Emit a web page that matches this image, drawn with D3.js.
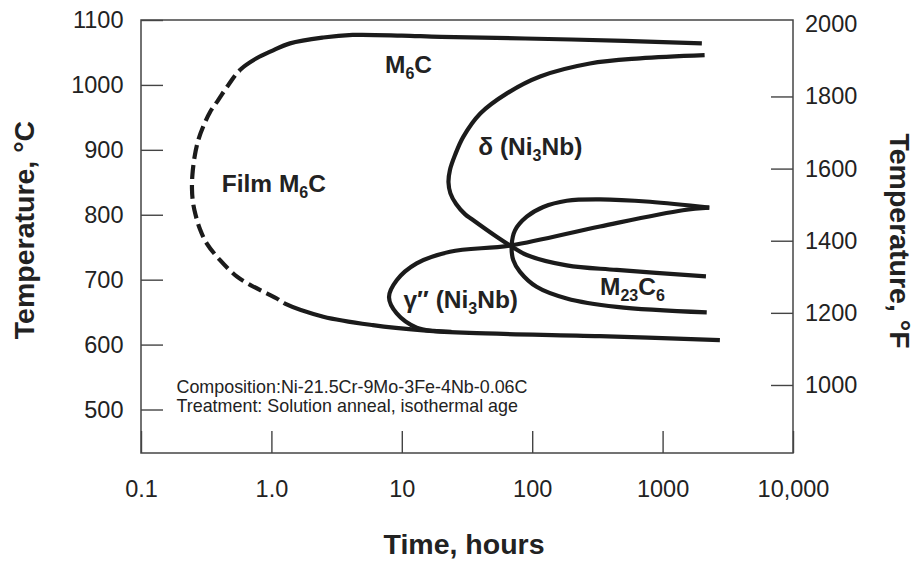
<!DOCTYPE html>
<html>
<head>
<meta charset="utf-8">
<script src="https://cdn.jsdelivr.net/npm/d3@7"></script>
<style>
  html, body { margin: 0; padding: 0; background: #ffffff; }
  svg { display: block; font-family: "Liberation Sans", Arial, Helvetica, sans-serif; }
</style>
</head>
<body>
<svg id="chart" width="916" height="561"></svg>
<script>
// Time-temperature-transformation diagram, alloy 625.
// Each curve is a list of [time in hours, temperature in °C].

const xTickValues = [0.1, 1, 10, 100, 1000, 10000];
const xTickLabels = ["0.1", "1.0", "10", "100", "1000", "10,000"];
const cTickValues = [500, 600, 700, 800, 900, 1000, 1100];
const fTickValues = [1000, 1200, 1400, 1600, 1800, 2000];

// Outer M6C boundary, traced from the upper right end round to the lower right end
const m6cBoundary = [[2000, 1064], [200, 1070], [20, 1074], [10, 1076], [4.2, 1077],
  [2.5, 1073], [1.39, 1064], [1.0, 1052], [0.77, 1041], [0.574, 1023], [0.468, 1000],
  [0.392, 977], [0.338, 958], [0.300, 936], [0.275, 915], [0.258, 890], [0.248, 862],
  [0.246, 840], [0.250, 820], [0.262, 800], [0.283, 778], [0.319, 756], [0.404, 730],
  [0.542, 705], [0.686, 692], [0.92, 679], [1.1, 671], [1.27, 663], [2.5, 643], [6, 630],
  [14.6, 622], [33, 618], [330, 613], [2750, 607]];
// The film M6C stretch (dashed) runs between these two points of the boundary
const filmStart = [0.574, 1023];
const filmEnd = [1.27, 663];
const filmNoseTemp = 840;

// delta (Ni3Nb)
const deltaPhase = [[2100, 1046], [670, 1041], [277, 1033], [115, 1013], [64, 987], [40, 956],
  [29.6, 920], [25.6, 892], [23.4, 869], [22.8, 850], [23.6, 833], [26.1, 816.5], [30.5, 801],
  [34.5, 793], [53.4, 766], [69.6, 751], [90.8, 738], [184, 722], [445, 715], [2150, 705]];

// gamma double prime (Ni3Nb)
const gammaPrimePrime = [[2280, 811], [1430, 807], [331, 782], [69.6, 753], [23.4, 743],
  [13, 725], [9.14, 699], [7.98, 673], [9.14, 648], [13, 626], [17.5, 621], [24, 619.5]];

// M23C6
const m23c6 = [[2280, 811], [800, 820], [331, 823.7], [184, 821.6], [121.6, 812], [90.8, 797],
  [73.8, 776], [69.6, 753], [71.6, 730], [80.6, 712], [108, 689], [184, 671], [445, 658],
  [2180, 649.5]];

const svg = d3.select("#chart");
const plotLeft = 141, plotRight = 793, plotTop = 20, plotBottom = 453;
const inkDark = "#1b1b1b", textColor = "#222", frameColor = "#444";

const x = d3.scaleLog().domain([0.1, 10000]).range([plotLeft, plotRight]);
const y = d3.scaleLinear().domain([433, 1100]).range([plotBottom, plotTop]);
const yF = d3.scaleLinear().domain([433, 1100].map(c => c * 9 / 5 + 32)).range([plotBottom, plotTop]);

// Axes
const tickLen = 22;
const xAxis = d3.axisBottom(x).tickValues(xTickValues)
  .tickFormat((d, i) => xTickLabels[i]).tickSize(-tickLen).tickPadding(27.5);
const gx = svg.append("g").attr("transform", `translate(0,${plotBottom})`).call(xAxis);

const yAxisL = d3.axisLeft(y).tickValues(cTickValues).tickFormat(d3.format("d"))
  .tickSize(-tickLen).tickPadding(17.5);
const gyL = svg.append("g").attr("transform", `translate(${plotLeft},0)`).call(yAxisL);

const yAxisR = d3.axisRight(yF).tickValues(fTickValues).tickFormat(d3.format("d"))
  .tickSize(-tickLen).tickPadding(12);
const gyR = svg.append("g").attr("transform", `translate(${plotRight},0)`).call(yAxisR);

[gx, gyL, gyR].forEach(g => {
  g.select(".domain").remove();
  g.selectAll(".tick line").attr("stroke", frameColor).attr("stroke-width", 1.4);
  g.selectAll(".tick text").attr("fill", textColor)
    .attr("font-size", 23.5).attr("font-family", "Liberation Sans, Arial, sans-serif");
});
gyR.selectAll(".tick").filter(d => d === 2000).select("line").remove();

// Frame
svg.append("rect")
  .attr("x", plotLeft).attr("y", plotTop)
  .attr("width", plotRight - plotLeft).attr("height", plotBottom - plotTop)
  .attr("fill", "none").attr("stroke", frameColor).attr("stroke-width", 1.5);

// Clip regions separating the dashed film stretch from the solid branches
const defs = svg.append("defs");
const xs = x(filmStart[0]), xe = x(filmEnd[0]), yNose = y(filmNoseTemp);
const filmRegion = `M0,0H${xs}V${yNose}H${xe}V561H0Z`;
const solidRegion = `M${xs},0H916V561H${xe}V${yNose}H${xs}Z`;
defs.append("clipPath").attr("id", "clip-film").append("path").attr("d", filmRegion);
defs.append("clipPath").attr("id", "clip-solid").append("path").attr("d", solidRegion);

// Curves
const line = d3.line()
  .x(d => x(d[0])).y(d => y(d[1]))
  .curve(d3.curveCatmullRom.alpha(0.5));

const strokeStyle = sel => sel
  .attr("fill", "none")
  .attr("stroke", inkDark)
  .attr("stroke-width", 4.2)
  .attr("stroke-linecap", "butt")
  .attr("stroke-linejoin", "round");

const curveLayer = svg.append("g");
curveLayer.append("path").attr("d", line(m6cBoundary))
  .attr("clip-path", "url(#clip-solid)").call(strokeStyle);
curveLayer.append("path").attr("d", line(m6cBoundary))
  .attr("clip-path", "url(#clip-film)").attr("stroke-dasharray", "14,6")
  .attr("stroke-dashoffset", 3).call(strokeStyle);
curveLayer.selectAll("path.phase")
  .data([deltaPhase, gammaPrimePrime, m23c6]).join("path")
  .attr("class", "phase")
  .attr("d", d => line(d))
  .call(strokeStyle);

// Region labels, positioned in data coordinates: [hours, °C]
const phaseLabels = [
  { pos: [7.43, 1018], parts: [["M"], ["6", "sub"], ["C"]] },
  { pos: [0.416, 835], parts: [["Film M"], ["6", "sub"], ["C"]] },
  { pos: [38.6, 892], parts: [["δ (Ni"], ["3", "sub"], ["Nb)"]] },
  { pos: [10.3, 656], parts: [["γ″ (Ni"], ["3", "sub"], ["Nb)"]] },
  { pos: [331, 676], parts: [["M"], ["23", "sub"], ["C"], ["6", "sub"]] }
];
const labelSize = 24.5, subSize = 16, subShift = 6;
phaseLabels.forEach(lab => {
  const t = svg.append("text")
    .attr("x", x(lab.pos[0])).attr("y", y(lab.pos[1]))
    .attr("font-size", labelSize).attr("font-weight", "bold").attr("fill", textColor);
  let shifted = 0;
  lab.parts.forEach(([str, kind]) => {
    const target = kind === "sub" ? subShift : 0;
    t.append("tspan")
      .attr("dy", target - shifted)
      .attr("font-size", kind === "sub" ? subSize : labelSize)
      .text(str);
    shifted = target;
  });
});

// Notes
const notes = ["Composition:Ni-21.5Cr-9Mo-3Fe-4Nb-0.06C", "Treatment: Solution anneal, isothermal age"];
svg.append("g").selectAll("text").data(notes).join("text")
  .attr("x", 176.5).attr("y", (d, i) => 393 + i * 18.7)
  .attr("font-size", 17.9).attr("fill", textColor)
  .text(d => d);

// Axis titles
svg.append("text")
  .attr("transform", "translate(464,554)")
  .attr("text-anchor", "middle").attr("font-size", 28.5).attr("font-weight", "bold")
  .attr("fill", textColor).text("Time, hours");
svg.append("text")
  .attr("transform", "translate(34,230) rotate(-90)")
  .attr("text-anchor", "middle").attr("font-size", 28.5).attr("font-weight", "bold")
  .attr("fill", textColor).text("Temperature, °C");
svg.append("text")
  .attr("transform", "translate(890,241) rotate(90)")
  .attr("text-anchor", "middle").attr("font-size", 28.5).attr("font-weight", "bold")
  .attr("fill", textColor).text("Temperature, °F");
</script>
</body>
</html>
